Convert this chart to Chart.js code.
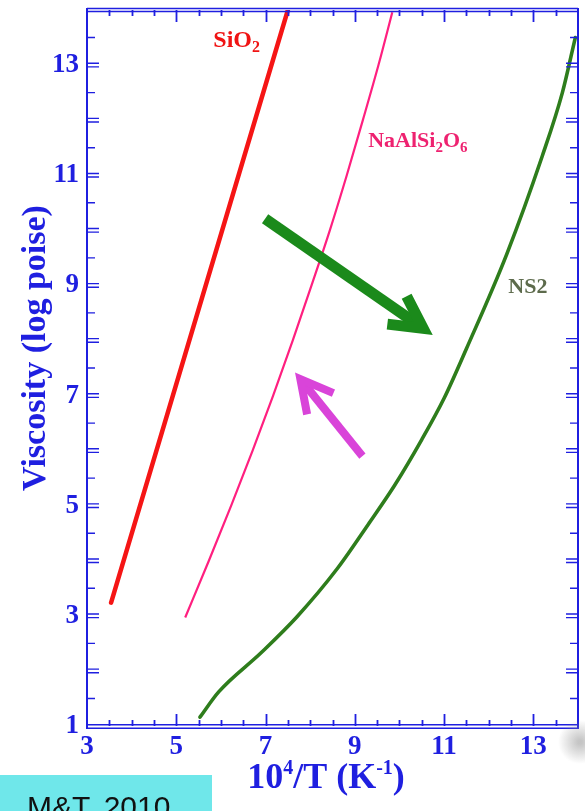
<!DOCTYPE html>
<html>
<head>
<meta charset="utf-8">
<script src="https://cdn.jsdelivr.net/npm/chart.js@4.4.1/dist/chart.umd.min.js"></script>
<style>
  html, body { margin: 0; padding: 0; background: #ffffff; }
  #wrap { position: relative; width: 585px; height: 811px; }
  canvas { display: block; }
</style>
</head>
<body>
<div id="wrap"><canvas id="c" width="585" height="811"></canvas></div>
<script>
// Inverse temperature 10^4/T (K^-1) against log10 viscosity (poise)
const sio2X = [3.54, 7.50];
const sio2Y = [3.24, 14.00];

const jadeiteX = [5.20, 5.73, 6.23, 6.71, 7.17, 7.61, 8.03, 8.44, 8.82, 9.18, 9.53, 9.84];
const jadeiteY = [2.97, 4.00, 5.00, 6.00, 7.00, 8.00, 9.00, 10.00, 11.00, 12.00, 13.00, 13.96];

const ns2X = [5.53, 5.95, 6.90, 7.70, 8.60, 9.30, 9.90, 10.50, 11.00, 11.50, 12.40, 13.20, 13.65, 13.94];
const ns2Y = [1.16, 1.62, 2.33, 2.98, 3.85, 4.66, 5.38, 6.20, 6.95, 7.85, 9.56, 11.35, 12.50, 13.50];

const xTickLabels = [3, 5, 7, 9, 11, 13];
const yTickLabels = [1, 3, 5, 7, 9, 11, 13];

const AXIS_BLUE = '#1f1fe0';
const SERIF = '"Liberation Serif", "Times New Roman", serif';

const toPoints = (xs, ys) => xs.map((x, i) => ({ x: x, y: ys[i] }));

// Annotation arrows in data units (tail -> tip)
const arrows = [
  { from: [6.99, 10.21], to: [10.53, 8.22], color: '#1b8a1b', width: 11 },
  { from: [9.17, 5.90], to: [7.78, 7.30], color: '#d944d9', width: 8 }
];

function drawArrow(ctx, x0, y0, x1, y1, color, width) {
  const ang = Math.atan2(y0 - y1, x0 - x1);
  const wing = 36, spread = 28 * Math.PI / 180;
  ctx.save();
  ctx.strokeStyle = color;
  ctx.lineWidth = width;
  ctx.lineCap = 'butt';
  ctx.lineJoin = 'miter';
  ctx.beginPath();
  ctx.moveTo(x0, y0);
  ctx.lineTo(x1 + Math.cos(ang) * 4, y1 + Math.sin(ang) * 4);
  ctx.stroke();
  ctx.beginPath();
  ctx.moveTo(x1 + Math.cos(ang + spread) * wing, y1 + Math.sin(ang + spread) * wing);
  ctx.lineTo(x1, y1);
  ctx.lineTo(x1 + Math.cos(ang - spread) * wing, y1 + Math.sin(ang - spread) * wing);
  ctx.stroke();
  ctx.restore();
}

// Draws text pieces with optional sub/superscripts; returns width
function richText(ctx, parts, x, y, draw) {
  let cx = x;
  parts.forEach(p => {
    ctx.font = 'bold ' + p.size + 'px ' + SERIF;
    if (draw) ctx.fillText(p.t, cx, y + (p.dy || 0));
    cx += ctx.measureText(p.t).width;
  });
  return cx - x;
}

const decorations = {
  id: 'decorations',
  afterDatasetsDraw(chart) {
    const ctx = chart.ctx;
    const xs = chart.scales.x, ys = chart.scales.y;
    const a = chart.chartArea;

    // frame
    ctx.save();
    ctx.strokeStyle = AXIS_BLUE;
    ctx.lineWidth = 2;
    ctx.beginPath();
    ctx.moveTo(a.left, a.top - 2); ctx.lineTo(a.left, a.bottom + 3);
    ctx.moveTo(a.right, a.top - 2); ctx.lineTo(a.right, a.bottom + 3);
    ctx.stroke();
    ctx.lineWidth = 1.6;
    ctx.beginPath();
    [a.top - 1.5, a.top + 1.5].forEach(y => { ctx.moveTo(a.left, y); ctx.lineTo(a.right, y); });
    [a.bottom - 1.2, a.bottom + 2.2].forEach(y => { ctx.moveTo(a.left, y); ctx.lineTo(a.right, y); });
    ctx.stroke();

    // inward ticks on the horizontal axes
    ctx.lineWidth = 1.8;
    ctx.beginPath();
    for (let v = xs.min + 0.5; v < xs.max; v += 0.5) {
      const px = Math.round(xs.getPixelForValue(v)) + 0.5;
      const major = Number.isInteger(v) && v % 2 === 1;
      const len = major ? 12 : 6;
      ctx.moveTo(px, a.bottom); ctx.lineTo(px, a.bottom - len);
      ctx.moveTo(px, a.top); ctx.lineTo(px, a.top + len);
    }
    ctx.stroke();

    // inward ticks on the vertical axes (double marks at integers)
    ctx.lineWidth = 1.4;
    ctx.beginPath();
    for (let v = ys.min + 0.5; v < ys.max; v += 0.5) {
      const py = ys.getPixelForValue(v);
      if (Number.isInteger(v)) {
        [py - 1.8, py + 1.8].forEach(yy => {
          ctx.moveTo(a.left, yy); ctx.lineTo(a.left + 12, yy);
          ctx.moveTo(a.right, yy); ctx.lineTo(a.right - 12, yy);
        });
      } else {
        ctx.moveTo(a.left, py); ctx.lineTo(a.left + 8, py);
        ctx.moveTo(a.right, py); ctx.lineTo(a.right - 8, py);
      }
    }
    ctx.stroke();
    ctx.restore();

    // arrows
    arrows.forEach(ar => {
      drawArrow(ctx,
        xs.getPixelForValue(ar.from[0]), ys.getPixelForValue(ar.from[1]),
        xs.getPixelForValue(ar.to[0]), ys.getPixelForValue(ar.to[1]),
        ar.color, ar.width);
    });

    // curve labels
    ctx.save();
    ctx.textBaseline = 'alphabetic';
    ctx.textAlign = 'left';
    ctx.fillStyle = '#f01414';
    richText(ctx, [{ t: 'SiO', size: 24 }, { t: '2', size: 16, dy: 5 }],
      xs.getPixelForValue(5.83), ys.getPixelForValue(13.33), true);
    ctx.fillStyle = '#ee2270';
    richText(ctx, [{ t: 'NaAlSi', size: 22 }, { t: '2', size: 15, dy: 5 }, { t: 'O', size: 22 }, { t: '6', size: 15, dy: 5 }],
      xs.getPixelForValue(9.30), ys.getPixelForValue(11.52), true);
    ctx.fillStyle = '#5d6b4c';
    richText(ctx, [{ t: 'NS2', size: 22 }],
      xs.getPixelForValue(12.44), ys.getPixelForValue(8.86), true);
    ctx.restore();
  },
  afterDraw(chart) {
    const ctx = chart.ctx;
    const a = chart.chartArea;
    ctx.save();
    ctx.fillStyle = AXIS_BLUE;

    // y title
    ctx.save();
    ctx.translate(45, (a.top + a.bottom) / 2 - 20);
    ctx.rotate(-Math.PI / 2);
    ctx.textAlign = 'center';
    ctx.textBaseline = 'alphabetic';
    ctx.font = 'bold 34px ' + SERIF;
    ctx.fillText('Viscosity (log poise)', 0, 0);
    ctx.restore();

    // x title with superscripts
    const parts = [
      { t: '10', size: 36 }, { t: '4', size: 20, dy: -14 },
      { t: '/T (K', size: 36 }, { t: '-1', size: 20, dy: -14 }, { t: ')', size: 36 }
    ];
    ctx.textAlign = 'left';
    ctx.textBaseline = 'alphabetic';
    const w = richText(ctx, parts, 0, 0, false);
    richText(ctx, parts, 326 - w / 2, 788, true);

    // citation box
    ctx.fillStyle = '#6fe7ea';
    ctx.fillRect(0, 775, 212, 36);
    ctx.fillStyle = '#111111';
    ctx.font = '30px "Liberation Sans", Arial, sans-serif';
    ctx.fillText('M&T, 2010', 27, 817);

    // faint grey smudge at the lower right edge
    const g = ctx.createRadialGradient(580, 742, 2, 580, 742, 22);
    g.addColorStop(0, 'rgba(150,150,150,0.55)');
    g.addColorStop(1, 'rgba(150,150,150,0)');
    ctx.fillStyle = g;
    ctx.fillRect(555, 715, 30, 60);
    ctx.restore();
  }
};

new Chart(document.getElementById('c'), {
  type: 'scatter',
  data: {
    datasets: [
      {
        label: 'SiO2',
        data: toPoints(sio2X, sio2Y),
        showLine: true,
        borderColor: '#f51515',
        borderWidth: 4.5,
        pointRadius: 0,
        borderCapStyle: 'round'
      },
      {
        label: 'NaAlSi2O6',
        data: toPoints(jadeiteX, jadeiteY),
        showLine: true,
        borderColor: '#ff1f7f',
        borderWidth: 2.2,
        pointRadius: 0,
        cubicInterpolationMode: 'monotone'
      },
      {
        label: 'NS2',
        data: toPoints(ns2X, ns2Y),
        showLine: true,
        borderColor: '#2e7d1c',
        borderWidth: 3.6,
        pointRadius: 0,
        cubicInterpolationMode: 'monotone',
        borderCapStyle: 'round'
      }
    ]
  },
  options: {
    responsive: false,
    animation: false,
    devicePixelRatio: 1,
    layout: { padding: { top: 10, right: 7, left: 0, bottom: 0 } },
    plugins: { legend: { display: false }, tooltip: { enabled: false }, title: { display: false } },
    scales: {
      x: {
        type: 'linear',
        position: 'bottom',
        min: 3,
        max: 14,
        grid: { display: false, drawTicks: false },
        border: { display: false },
        afterBuildTicks: s => { s.ticks = xTickLabels.map(v => ({ value: v })); },
        afterFit: s => { s.height = 85; s.paddingLeft = 0; s.paddingRight = 0; },
        ticks: {
          color: AXIS_BLUE,
          padding: 5,
          maxRotation: 0,
          autoSkip: false,
          font: { family: SERIF, weight: 'bold', size: 27 },
          callback: v => String(v)
        }
      },
      y: {
        type: 'linear',
        position: 'left',
        min: 1,
        max: 14,
        grid: { display: false, drawTicks: false },
        border: { display: false },
        afterBuildTicks: s => { s.ticks = yTickLabels.map(v => ({ value: v })); },
        afterFit: s => { s.width = 87; s.paddingTop = 0; s.paddingBottom = 0; },
        ticks: {
          color: AXIS_BLUE,
          padding: 8,
          autoSkip: false,
          font: { family: SERIF, weight: 'bold', size: 27 },
          callback: v => String(v)
        }
      }
    }
  },
  plugins: [decorations]
});
</script>
</body>
</html>
